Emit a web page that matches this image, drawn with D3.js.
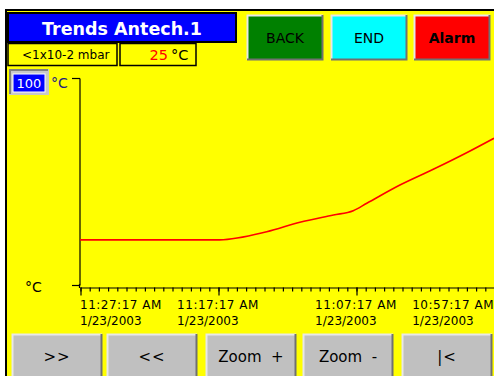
<!DOCTYPE html>
<html>
<head>
<meta charset="utf-8">
<script src="https://cdn.jsdelivr.net/npm/d3@7"></script>
<style>
  html, body { margin: 0; padding: 0; background: #ffffff; }
  svg { display: block; }
  text { font-family: "DejaVu Sans", sans-serif; }
</style>
</head>
<body>
<script>
// ---------------- data ----------------
const title = "Trends Antech.1";
const pressureLabel = "<1x10-2 mbar";
const tempValue = "25";
const tempUnit = "°C";
const topButtons = ["BACK", "END", "Alarm"];
const bottomButtons = [">>", "<<", "Zoom  +", "Zoom  -", "|<"];
const yMaxLabel = "100";
const yDomain = [0, 100];
const axisDate = "1/23/2003";
const tickTimes = ["11:27:17", "11:17:17", "11:07:17", "10:57:17"];
const tickLabels = ["11:27:17 AM", "11:17:17 AM", "11:07:17 AM", "10:57:17 AM"];
const seriesTimes = ["11:27:17", "11:17:10", "11:13:45", "11:11:21", "11:08:55", "11:07:29",
                     "11:06:30", "11:04:06", "11:01:41", "10:59:16", "10:57:17"];
const seriesTemps = [21.8, 21.8, 25.7, 30.3, 33.8, 35.9, 39.5, 48.3, 55.9, 63.9, 70.9];

// ---------------- setup ----------------
const W = 494, H = 376;
const parse = d3.timeParse("%m/%d/%Y %H:%M:%S");
const toDate = t => parse("01/23/2003 " + t);

const svg = d3.select("body").append("svg").attr("width", W).attr("height", H);

// frame
svg.append("rect").attr("x", 0).attr("y", 0).attr("width", W).attr("height", H).attr("fill", "#ffffff");
svg.append("rect").attr("x", 7).attr("y", 11).attr("width", W - 7).attr("height", H - 11).attr("fill", "#ffff00");
svg.append("rect").attr("x", 5).attr("y", 9).attr("width", W - 5).attr("height", 2).attr("fill", "#000");
svg.append("rect").attr("x", 5).attr("y", 9).attr("width", 2).attr("height", H - 9).attr("fill", "#000");

// title box
svg.append("rect").attr("x", 8).attr("y", 13).attr("width", 228).attr("height", 29)
  .attr("fill", "#0000ff").attr("stroke", "#000").attr("stroke-width", 2);
svg.append("text").attr("x", 122).attr("y", 34.5).attr("text-anchor", "middle")
  .attr("fill", "#fff").attr("font-weight", "bold").attr("font-size", 17.5).text(title);

// sub boxes
svg.append("rect").attr("x", 8).attr("y", 43.5).attr("width", 109).attr("height", 22)
  .attr("fill", "#ffff00").attr("stroke", "#000").attr("stroke-width", 1.5);
svg.append("rect").attr("x", 120).attr("y", 43.5).attr("width", 76).attr("height", 22)
  .attr("fill", "#ffff00").attr("stroke", "#000").attr("stroke-width", 1.5);
svg.append("text").attr("x", 22).attr("y", 59).attr("font-size", 12).attr("fill", "#000").text(pressureLabel);
svg.append("text").attr("x", 168).attr("y", 60).attr("text-anchor", "end").attr("font-size", 14.5)
  .attr("fill", "#ff0000").text(tempValue);
svg.append("text").attr("x", 171).attr("y", 60).attr("font-size", 14.5).attr("fill", "#000").text(tempUnit);

// button helper
function button(g, x, y, w, h, fill, label, opts) {
  g.append("rect").attr("x", x).attr("y", y).attr("width", w).attr("height", h).attr("fill", fill);
  g.append("path").attr("d", `M${x + 0.5},${y + h}V${y + 0.5}H${x + w}`)
    .attr("stroke", "#e8e8e8").attr("stroke-width", 2).attr("fill", "none");
  g.append("path").attr("d", `M${x},${y + h - 0.5}H${x + w - 0.5}V${y}`)
    .attr("stroke", "#707070").attr("stroke-width", 2).attr("fill", "none");
  g.append("text").attr("x", x + w / 2).attr("y", opts.ty).attr("text-anchor", "middle")
    .attr("font-size", opts.size).attr("font-weight", opts.bold ? "bold" : "normal")
    .attr("fill", "#000").style("white-space", "pre").attr("letter-spacing", opts.ls || 0)
    .text(label);
}
const tb = svg.append("g");
const topFills = ["#008000", "#00ffff", "#ff0000"];
const topX = [247, 331, 414];
topButtons.forEach((b, i) => button(tb, topX[i], 15, 76, 45, topFills[i], b,
  { ty: 43, size: 14, bold: b === "Alarm" }));

const bb = svg.append("g");
const botX = [12, 107, 206, 303, 402];
bottomButtons.forEach((b, i) => button(bb, botX[i], 334, 90, 50, "#c0c0c0", b,
  { ty: 362, size: 15, ls: (b.length <= 2 ? 1 : 0) }));

// ---------------- chart ----------------
const x = d3.scaleTime()
  .domain([toDate(tickTimes[0]), toDate(tickTimes[tickTimes.length - 1])])
  .range([80, 494]);
const y = d3.scaleLinear().domain(yDomain).range([285, 78]);

// y axis
const yAxis = svg.append("g").attr("transform", "translate(79.5,0)")
  .call(d3.axisLeft(y).tickValues(yDomain).tickSize(8).tickSizeOuter(0).tickFormat(""));
yAxis.selectAll("path, line").attr("stroke", "#000").attr("stroke-width", 1.2);
svg.append("line").attr("x1", 79.5).attr("x2", 79.5).attr("y1", 284).attr("y2", 288)
  .attr("stroke", "#000").attr("stroke-width", 1.2);

// y labels
svg.append("rect").attr("x", 9).attr("y", 69).attr("width", 40).attr("height", 26).attr("fill", "#c8c8c8");
svg.append("path").attr("d", "M10,94V70H48").attr("stroke", "#808080").attr("stroke-width", 2).attr("fill", "none");
svg.append("rect").attr("x", 13).attr("y", 74).attr("width", 32).attr("height", 18)
  .attr("fill", "#0000ff").attr("stroke", "#ffffff").attr("stroke-width", 1);
svg.append("text").attr("x", 29).attr("y", 88).attr("text-anchor", "middle").attr("font-size", 13)
  .attr("fill", "#fff").text(yMaxLabel);
svg.append("text").attr("x", 51).attr("y", 88).attr("font-size", 14).attr("fill", "#202080").text("°C");
svg.append("text").attr("x", 25).attr("y", 292).attr("font-size", 14).attr("fill", "#000").text("°C");

// x axis
const t0 = toDate(tickTimes[tickTimes.length - 1]);
const t1 = toDate(tickTimes[0]);
const minorTicks = d3.timeSecond.range(t0, new Date(+t1 + 1000), 40);
const majorTicks = tickTimes.map(toDate);

const xMinor = svg.append("g").attr("transform", "translate(0,287.5)")
  .call(d3.axisBottom(x).tickValues(minorTicks).tickSize(4).tickSizeOuter(0).tickFormat(""));
const xMajor = svg.append("g").attr("transform", "translate(0,287.5)")
  .call(d3.axisBottom(x).tickValues(majorTicks).tickSize(8).tickSizeOuter(0).tickFormat(""));
svg.selectAll(".tick line").attr("stroke", "#000").attr("stroke-width", 1.2);
xMinor.select(".domain").attr("stroke", "#000").attr("stroke-width", 1.2);
xMajor.select(".domain").remove();
svg.selectAll(".tick line").attr("transform", "translate(0.5,0)");

// x labels
const lab = svg.append("g");
majorTicks.forEach((t, i) => {
  const g = lab.append("g");
  const l1 = g.append("text").attr("y", 309).attr("font-size", 12).attr("letter-spacing", 0.5).text(tickLabels[i]);
  const l2 = g.append("text").attr("y", 325).attr("font-size", 12).text(axisDate);
  const w = Math.max(l1.node().getComputedTextLength(), l2.node().getComputedTextLength());
  let sx = x(t) - w / 2;
  if (i === 0) sx = x(t);
  if (i === majorTicks.length - 1) sx = x(t) - w;
  l1.attr("x", sx); l2.attr("x", sx);
});

// series
const series = seriesTimes.map((t, i) => ({ t: toDate(t), v: seriesTemps[i] }));
svg.append("path").datum(series)
  .attr("d", d3.line().x(d => x(d.t)).y(d => y(d.v)).curve(d3.curveMonotoneX))
  .attr("fill", "none").attr("stroke", "#ff0000").attr("stroke-width", 1.6);
</script>
</body>
</html>
